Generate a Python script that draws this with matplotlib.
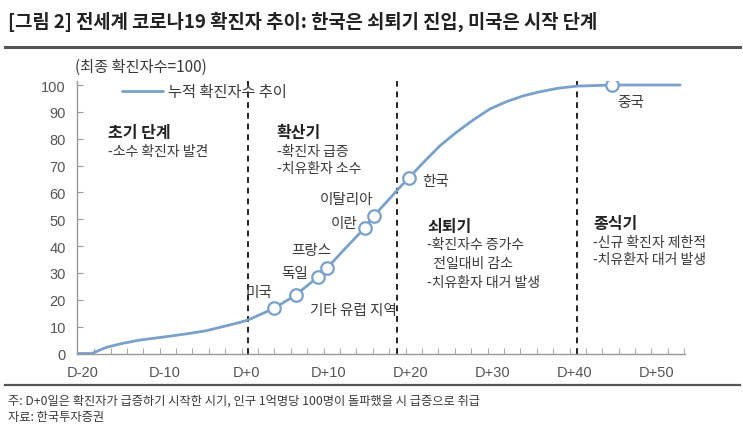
import matplotlib
matplotlib.use("Agg")
import matplotlib.pyplot as plt
from matplotlib.lines import Line2D
import numpy as np

plt.rcParams["font.family"] = ["Noto Sans CJK KR", "DejaVu Sans"]

# data (days relative to D+0, final cases = 100)
curve_days = [-20.7, -18.9, -17.1, -15.1, -13.0, -11.0, -9.0, -6.9, -4.9, -2.9, -0.8, 0.2,
              3.4, 6.0, 8.7, 9.8, 12.0, 14.4, 15.5, 17.1, 18.7, 19.8, 21.3, 23.6, 25.6,
              27.7, 29.7, 31.7, 33.8, 35.8, 38.0, 40.3, 44.6, 52.9]
curve_vals = [0, 0, 2.3, 3.8, 5.0, 5.8, 6.6, 7.5, 8.5, 10.0, 11.6, 12.5,
              16.9, 21.8, 28.5, 31.8, 39.0, 46.7, 51.2, 56.5, 61.9, 65.4, 70.3, 77.4, 82.4,
              87.1, 91.1, 93.8, 96.0, 97.5, 98.8, 99.6, 100, 100]

country_names = ["미국", "기타 유럽 지역", "독일", "프랑스", "이란", "이탈리아", "한국", "중국"]
country_days = [3.4, 6.0, 8.7, 9.8, 14.4, 15.5, 19.8, 44.6]
country_vals = [16.9, 21.8, 28.5, 31.8, 46.7, 51.2, 65.4, 100]

phase_bounds = [0.2, 18.3, 40.3]
x_ticks = [-20, -10, 0, 10, 20, 30, 40, 50]
x_labels = ["D-20", "D-10", "D+0", "D+10", "D+20", "D+30", "D+40", "D+50"]
y_ticks = list(range(0, 101, 10))

W, H = 743, 427
LINE = "#7aa0cc"
TXT = "#3a3a3a"
GREY = "#555555"

fig = plt.figure(figsize=(W / 100, H / 100), dpi=100)


def px(x, y):
    return x / W, 1 - y / H


ax = fig.add_axes([77 / W, 1 - 354.5 / H, 608 / W, 272.5 / H])
ax.set_xlim(-20.69, 53.49)
ax.set_ylim(0, 101.5)

ax.plot(curve_days, curve_vals, color=LINE, lw=2.0, solid_capstyle="round",
        solid_joinstyle="round", label="누적 확진자수 추이", zorder=3)
ax.plot(country_days, country_vals, ls="none", marker="o", ms=9, mfc="white",
        mec=LINE, mew=1.6, zorder=4)

for b in phase_bounds:
    ax.axvline(b, color="#222222", lw=1.4, ls=(0, (3, 2.5)), zorder=2)

# spines / ticks
for s in ["top", "right"]:
    ax.spines[s].set_visible(False)
for s in ["left", "bottom"]:
    ax.spines[s].set_color("#999999")
    ax.spines[s].set_linewidth(1.0)
ax.set_yticks(y_ticks)
ax.set_xticks(x_ticks)
ax.set_xticklabels(x_labels)
ax.set_xticks(np.arange(-18.6, 54, 2), minor=True)
ax.tick_params(axis="y", direction="in", length=4, color="#999999", labelsize=10.5,
               labelcolor=GREY, pad=8)
ax.tick_params(axis="x", which="major", length=0, labelsize=10.5, labelcolor=GREY, pad=8)
ax.tick_params(axis="x", which="minor", direction="in", length=4, color="#999999")
for lab in ax.get_xticklabels() + ax.get_yticklabels():
    lab.set_family(["Liberation Sans", "DejaVu Sans"])

leg = ax.legend(loc="center left", bbox_to_anchor=((122 - 77) / 608, (354.5 - 93) / 272.5),
                frameon=False, borderpad=0, borderaxespad=0, handlelength=2.7,
                handletextpad=0.3, fontsize=11)
for t in leg.get_texts():
    t.set_color(TXT)

# country labels
lab_pos = {
    "미국": (1.5, 22.9, "center"),
    "기타 유럽 지역": (7.7, 16.2, "left"),
    "독일": (7.5, 30.0, "right"),
    "프랑스": (10.4, 38.5, "right"),
    "이란": (13.5, 48.6, "right"),
    "이탈리아": (15.4, 57.5, "right"),
    "한국": (21.4, 64.2, "left"),
    "중국": (45.2, 93.6, "left"),
}
for name in country_names:
    x, y, ha = lab_pos[name]
    ax.text(x, y, name, ha=ha, va="center", fontsize=10.5, color=TXT)

# phase descriptions
phases = [
    (-16.9, [82.5, 75.4], ["초기 단계", "-소수 확진자 발견"]),
    (3.7, [82.5, 75.4, 69.1], ["확산기", "-확진자 급증", "-치유환자 소수"]),
    (22.0, [47.5, 40.8, 33.7, 26.6], ["쇠퇴기", "-확진자수 증가수", "  전일대비 감소", "-치유환자 대거 발생"]),
    (42.3, [48.6, 41.5, 35.2], ["종식기", "-신규 확진자 제한적", "-치유환자 대거 발생"]),
]
for x, ys, lines in phases:
    for i, (y, t) in enumerate(zip(ys, lines)):
        if i == 0:
            ax.text(x, y, t, ha="left", va="center", fontsize=11.5, fontweight="bold", color="#222222")
        else:
            ax.text(x, y, t, ha="left", va="center", fontsize=10, color=TXT)

# header, unit, footer
fig.text(*px(8, 22), "[그림 2] 전세계 코로나19 확진자 추이: 한국은 쇠퇴기 진입, 미국은 시작 단계",
         ha="left", va="center", fontsize=13.5, fontweight="bold", color="#222222")
fig.add_artist(Line2D([5 / W, 740 / W], [1 - 48 / H, 1 - 48 / H], color="#555555", lw=2.2))
fig.text(*px(75, 67), "(최종 확진자수=100)", ha="left", va="center", fontsize=11, color=TXT)

fig.add_artist(Line2D([5 / W, 740 / W], [1 - 386 / H, 1 - 386 / H], color="#555555", lw=1.6))
fig.text(*px(8, 401), "주: D+0일은 확진자가 급증하기 시작한 시기, 인구 1억명당 100명이 돌파했을 시 급증으로 취급",
         ha="left", va="center", fontsize=8.8, color=TXT)
fig.text(*px(8, 418), "자료: 한국투자증권", ha="left", va="center", fontsize=8.8, color=TXT)

fig.savefig("out.png", dpi=100, facecolor="white")
